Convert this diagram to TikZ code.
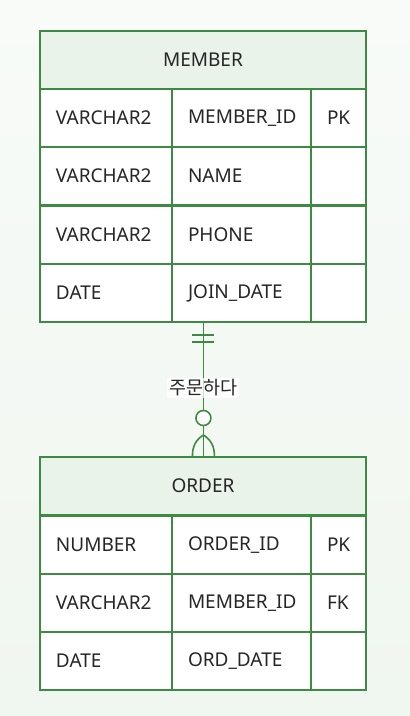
\documentclass[tikz,border=0pt]{standalone}
\usepackage{fontspec}
\setmainfont{Noto Sans}
\newfontfamily\krfont{Noto Sans CJK KR}
\usetikzlibrary{positioning, calc}
\definecolor{erline}{HTML}{3F8A42}
\definecolor{erhead}{HTML}{E9F3E9}
\definecolor{ertext}{HTML}{262626}
\definecolor{erbacktop}{HTML}{F8FBF8}
\definecolor{erbackbot}{HTML}{F0F6F0}

\begin{document}
\begin{tikzpicture}[x=1pt, y=-1pt,
    erbox/.style={draw=erline, line width=2pt, inner sep=0pt},
    headcell/.style={erbox, fill=erhead, minimum width=326pt, minimum height=58pt,
      anchor=north west, text=ertext, font=\fontsize{19}{22}\selectfont},
    cell/.style={erbox, fill=white, minimum height=58pt, anchor=north west,
      inner xsep=16pt, align=left, text=ertext, font=\fontsize{19}{22}\selectfont},
    relline/.style={erline, line width=1.6pt}]

  % Background
  \shade[top color=erbacktop, bottom color=erbackbot] (0,0) rectangle (410,716);
  \useasboundingbox (0,0) rectangle (410,716);

  % MEMBER table
  \node[headcell] (member) at (39,30) {MEMBER};
  \foreach \y/\a/\b/\c [count=\i] in {88/VARCHAR2/MEMBER\_ID/PK, 146/VARCHAR2/NAME/{},
      205/VARCHAR2/PHONE/{}, 263/DATE/JOIN\_DATE/{}} {
    \node[cell, text width=100pt] (m\i a) at (39,\y) {\a};
    \node[cell, text width=107pt] (m\i b) at (171,\y) {\b};
    \node[cell, text width=23pt] (m\i c) at (310,\y) {\c};
  }

  % ORDER table
  \node[headcell] (order) at (39,456) {ORDER};
  \foreach \y/\a/\b/\c [count=\i] in {515/NUMBER/ORDER\_ID/PK, 573/VARCHAR2/MEMBER\_ID/FK,
      631/DATE/ORD\_DATE/{}} {
    \node[cell, text width=100pt] (o\i a) at (39,\y) {\a};
    \node[cell, text width=107pt] (o\i b) at (171,\y) {\b};
    \node[cell, text width=23pt] (o\i c) at (310,\y) {\c};
  }

  % Relationship: one member places many orders
  \coordinate (top) at ($(m4b.south west)!0.23!(m4b.south east)$);
  \coordinate (bot) at (top |- order.north);
  \draw[relline] (top) -- (bot);
  \draw[relline] ($(top)+(-11,12)$) -- ($(top)+(11,12)$);
  \draw[relline] ($(top)+(-11,19)$) -- ($(top)+(11,19)$);
  \node[fill=white, fill opacity=0.75, text opacity=1, inner sep=2pt, text=ertext,
    font=\krfont\fontsize{18.5}{22}\selectfont] (rel) at ($(top)+(0,65)$) {주문하다};
  \node[circle, draw=erline, line width=1.6pt, fill=white, minimum size=15pt, inner sep=0pt]
    (optional) at ($(bot)+(0,-38)$) {};
  \coordinate (fork) at ($(bot)+(0,-21)$);
  \draw[relline] (fork) .. controls ($(fork)+(-8,5)$) and ($(bot)+(-11,-9)$) .. ($(bot)+(-11,0)$);
  \draw[relline] (fork) .. controls ($(fork)+(8,5)$) and ($(bot)+(11,-9)$) .. ($(bot)+(11,0)$);
\end{tikzpicture}
\end{document}
